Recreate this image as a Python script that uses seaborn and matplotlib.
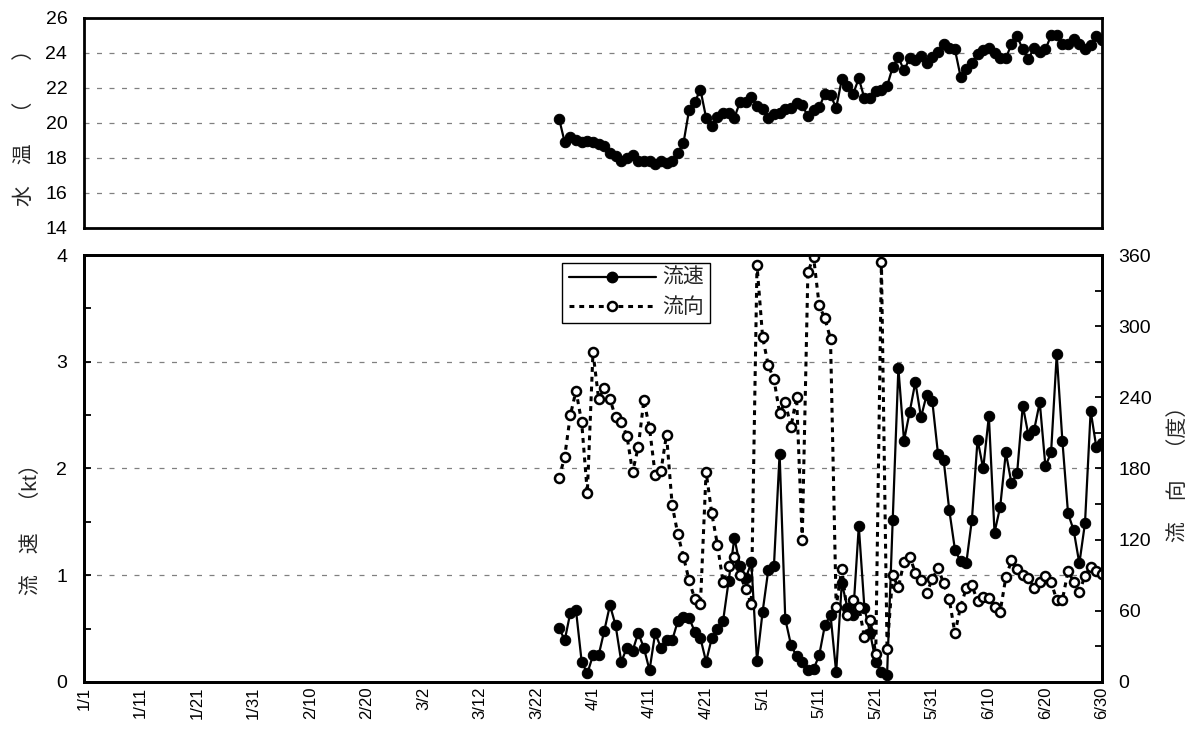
import matplotlib
matplotlib.use('Agg')
from matplotlib import pyplot as plt
from matplotlib.lines import Line2D
from matplotlib.ticker import MultipleLocator
import pandas as pd
import seaborn as sns

# daily observations, 3/26 - 6/30
start_date = '2007-03-26'

water_temp = [
    20.25, 18.9, 19.2, 19.0, 18.9, 18.95, 18.9, 18.8, 18.7, 18.3,
    18.1, 17.8, 18.0, 18.15, 17.8, 17.8, 17.8, 17.65, 17.8, 17.7,
    17.85, 18.3, 18.85, 20.75, 21.2, 21.9, 20.3, 19.85, 20.35, 20.55,
    20.55, 20.3, 21.2, 21.2, 21.5, 20.95, 20.8, 20.3, 20.5, 20.55,
    20.8, 20.85, 21.15, 21.0, 20.4, 20.75, 20.9, 21.65, 21.6, 20.85,
    22.5, 22.1, 21.65, 22.55, 21.4, 21.4, 21.85, 21.9, 22.1, 23.2,
    23.75, 23.0, 23.7, 23.6, 23.8, 23.4, 23.75, 24.05, 24.5, 24.3,
    24.2, 22.65, 23.1, 23.45, 23.95, 24.15, 24.3, 24.0, 23.7, 23.7,
    24.5, 24.95, 24.2, 23.65, 24.3, 24.05, 24.2, 25.0, 25.0, 24.5,
    24.5, 24.8, 24.5, 24.2, 24.45, 24.95, 24.75,
]

current_speed = [
    0.51, 0.39, 0.65, 0.67, 0.19, 0.08, 0.25, 0.25, 0.48, 0.72,
    0.53, 0.19, 0.32, 0.29, 0.46, 0.32, 0.11, 0.46, 0.32, 0.39,
    0.39, 0.57, 0.61, 0.60, 0.47, 0.41, 0.19, 0.41, 0.50, 0.57,
    0.95, 1.35, 1.09, 0.97, 1.12, 0.20, 0.66, 1.05, 1.09, 2.14,
    0.59, 0.35, 0.24, 0.19, 0.11, 0.12, 0.25, 0.53, 0.63, 0.09,
    0.93, 0.69, 0.63, 1.46, 0.69, 0.46, 0.19, 0.09, 0.065, 1.52,
    2.94, 2.26, 2.53, 2.81, 2.48, 2.69, 2.63, 2.14, 2.08, 1.61,
    1.24, 1.13, 1.11, 1.52, 2.27, 2.00, 2.49, 1.40, 1.64, 2.15,
    1.86, 1.96, 2.59, 2.31, 2.36, 2.62, 2.02, 2.15, 3.07, 2.26,
    1.58, 1.42, 1.11, 1.49, 2.54, 2.20, 2.24,
]

current_dir = [
    171.8, 190, 225, 245.5, 219, 159.5, 278, 238.7, 248, 238.7,
    223, 219, 207.7, 177, 198, 237.5, 214, 174.7, 177.5, 208.4,
    149.3, 124.6, 105.6, 85.6, 70, 65.7, 177.3, 142.4, 115.8, 84.2,
    97.6, 105, 90.5, 78.2, 65.7, 351.6, 290.5, 267, 255.2, 226.8,
    236, 215, 240, 119.9, 345.5, 358.5, 317.5, 306.5, 289.4, 63.5,
    95.5, 56.5, 69, 63.4, 37.8, 52, 23.6, 354.4, 27.6, 90.1,
    79.8, 101.4, 105.7, 92.2, 86, 75.3, 86.5, 96.4, 83.2, 69.7,
    41, 63.5, 79, 81.7, 68, 71.6, 71.2, 63.2, 59.3, 88.3,
    102.5, 95.3, 90.5, 88, 79.3, 84.5, 89.7, 84.5, 69, 69.3,
    93.4, 84.5, 75.7, 89.7, 97.2, 93.9, 90.8,
]

axis_start = '2007-01-01'
axis_end = '2007-06-30'
tick_dates = pd.date_range(axis_start, axis_end, freq='10D')
tick_labels = [f'{d.month}/{d.day}' for d in tick_dates]

sns.set_theme(style='white')
plt.rcParams['font.family'] = ['Liberation Sans', 'Noto Sans CJK JP']
plt.rcParams['axes.unicode_minus'] = False

dates = pd.date_range(start_date, periods=len(water_temp))

fig = plt.figure(figsize=(11.93, 7.45), dpi=100)
ax_t = fig.add_axes([0.0704, 0.694, 0.8533, 0.2819])
ax_v = fig.add_axes([0.0704, 0.0846, 0.8533, 0.5731])
ax_d = ax_v.twinx()

grid_kw = dict(color='#808080', linestyle=(0, (4, 6)), linewidth=0.9)
tick_kw = dict(direction='in', length=5, width=1.3, color='black')
label_kw = dict(fontsize=15)


def style_axis(ax):
    for spine in ax.spines.values():
        spine.set_linewidth(2)
        spine.set_color('black')
    ax.set_xlim(pd.Timestamp(axis_start), pd.Timestamp(axis_end))
    ax.set_xticks(tick_dates)
    ax.tick_params(axis='both', which='both', **tick_kw)
    ax.tick_params(axis='x', labelsize=12, colors='black')
    ax.tick_params(axis='y', labelsize=14, pad=12, colors='black')


# water temperature
sns.lineplot(x=dates, y=water_temp, ax=ax_t, color='black', linewidth=1.6,
             marker='o', markersize=7.5, markeredgecolor='black', legend=False)
style_axis(ax_t)
ax_t.set_ylim(14, 26)
ax_t.yaxis.set_major_locator(MultipleLocator(2))
ax_t.yaxis.set_minor_locator(MultipleLocator(1))
ax_t.set_xticklabels([])
ax_t.yaxis.grid(True, which='major', **grid_kw)
ax_t.set_xlabel('')
ax_t.set_ylabel('水　温　（　　）', labelpad=8, **label_kw)

# current speed
sns.lineplot(x=dates, y=current_speed, ax=ax_v, color='black', linewidth=1.6,
             marker='o', markersize=7.5, markeredgecolor='black', legend=False)
style_axis(ax_v)
ax_v.set_ylim(0, 4)
ax_v.yaxis.set_major_locator(MultipleLocator(1))
ax_v.yaxis.set_minor_locator(MultipleLocator(0.5))
ax_v.set_xticklabels(tick_labels, rotation=90)
ax_v.yaxis.grid(True, which='major', **grid_kw)
ax_v.set_xlabel('')
ax_v.set_ylabel('流　速　（kt）', **label_kw)
ax_v.yaxis.set_label_coords(-0.042, 0.37)

# current direction
sns.lineplot(x=dates, y=current_dir, ax=ax_d, color='black', linewidth=2.2,
             marker='o', markersize=6.5, markerfacecolor='white',
             markeredgecolor='black', markeredgewidth=1.8, legend=False)
ax_d.lines[-1].set_linestyle((0, (1.6, 1.6)))
style_axis(ax_d)
ax_d.set_ylim(0, 360)
ax_d.yaxis.set_major_locator(MultipleLocator(60))
ax_d.yaxis.set_minor_locator(MultipleLocator(30))
ax_d.grid(False)
ax_d.set_ylabel('流　向　（度）', labelpad=12, **label_kw)

handles = [
    Line2D([], [], color='black', linewidth=1.6, marker='o', markersize=7.5),
    Line2D([], [], color='black', linewidth=2.2, linestyle=(0, (1.6, 1.6)),
           marker='o', markersize=6.5, markerfacecolor='white',
           markeredgewidth=1.8),
]
leg = ax_d.legend(handles, ['流速', '流向'], loc='upper left',
                  bbox_to_anchor=(0.470, 0.982), fontsize=15,
                  frameon=True, fancybox=False, framealpha=1,
                  edgecolor='black', handlelength=4.2, handletextpad=0.3,
                  borderpad=0.3, labelspacing=0.45, borderaxespad=0)
leg.get_frame().set_linewidth(1.0)

plt.savefig('out.png', dpi=100, facecolor='white')
